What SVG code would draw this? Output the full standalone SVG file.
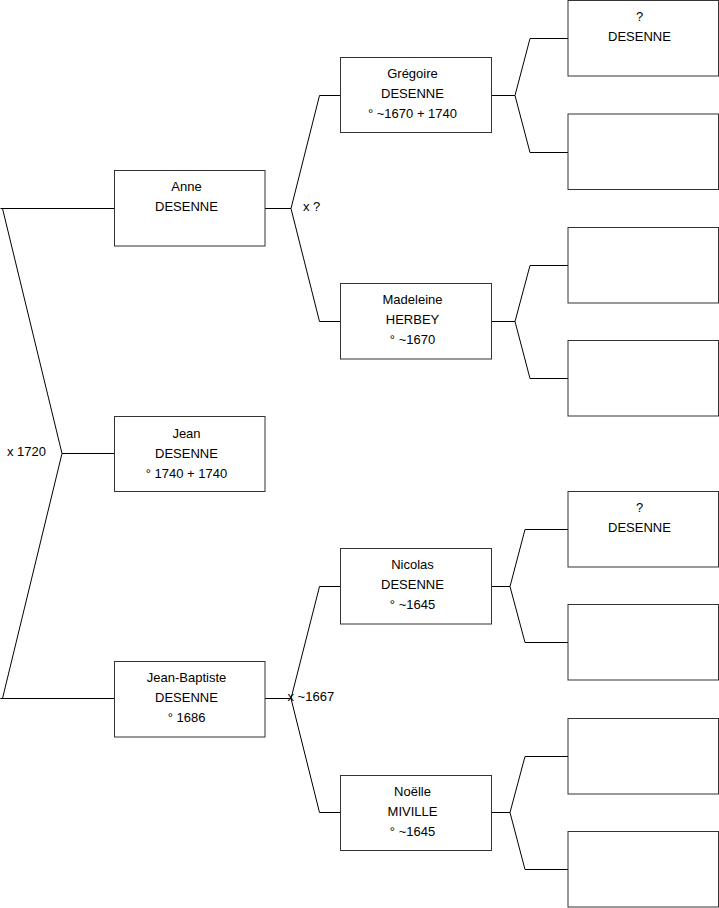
<svg xmlns="http://www.w3.org/2000/svg" width="719" height="908" viewBox="0 0 719 908">
<style>
.box{fill:#fff;stroke:#333;stroke-width:1}
.ln{fill:none;stroke:#000;stroke-width:1}
text{font-family:"Liberation Sans",Arial,sans-serif;font-size:13px;fill:#000}
.c{text-anchor:middle}
</style>
<rect width="719" height="908" fill="#fff"/>
<g id="connectors">
<path class="ln" d="M114,208.5 L0.5,208.5 M2.5,208.5 L62,453.5 L2.5,698.5 L0.5,698.5 M0.5,698.5 L114,698.5 M62,453.5 L114,453.5"/>
<path class="ln" d="M265,208.5 L291,208.5 L319.5,95.5 L340,95.5 M291,208.5 L319.5,321.5 L340,321.5"/>
<path class="ln" d="M265,698.5 L291,698.5 L319.5,586.5 L340,586.5 M291,698.5 L319.5,812.5 L340,812.5"/>
<path class="ln" d="M491,95.5 L515,95.5 L530,38.5 L568,38.5 M515,95.5 L530,152.5 L568,152.5"/>
<path class="ln" d="M491,321.5 L515,321.5 L530,265.5 L568,265.5 M515,321.5 L530,378.5 L568,378.5"/>
<path class="ln" d="M491,586.5 L510,586.5 L525,529.5 L568,529.5 M510,586.5 L525,642.5 L568,642.5"/>
<path class="ln" d="M491,812.5 L510,812.5 L525,756.5 L568,756.5 M510,812.5 L525,869.5 L568,869.5"/>
<text x="7" y="456">x 1720</text>
<text x="303" y="211">x ?</text>
<text x="287.5" y="701">x ~1667</text>
</g>
<g id="anne"><rect class="box" x="114.5" y="170.5" width="150.5" height="75.5"/>
<text class="c" x="186.5" y="191">Anne</text><text class="c" x="186.5" y="211">DESENNE</text></g>
<g id="jean"><rect class="box" x="114.5" y="416.5" width="150.5" height="75"/>
<text class="c" x="186.5" y="437.5">Jean</text><text class="c" x="186.5" y="457.5">DESENNE</text><text class="c" x="186.5" y="477.5">° 1740 + 1740</text></g>
<g id="jean-baptiste"><rect class="box" x="114.5" y="661.5" width="150.5" height="75.5"/>
<text class="c" x="186.5" y="682">Jean-Baptiste</text><text class="c" x="186.5" y="702">DESENNE</text><text class="c" x="186.5" y="722">° 1686</text></g>
<g id="gregoire"><rect class="box" x="340.5" y="57.5" width="151" height="75"/>
<text class="c" x="412.5" y="78">Grégoire</text><text class="c" x="412.5" y="98">DESENNE</text><text class="c" x="412.5" y="118">° ~1670 + 1740</text></g>
<g id="madeleine"><rect class="box" x="340.5" y="283.5" width="151" height="75.5"/>
<text class="c" x="412.5" y="304">Madeleine</text><text class="c" x="412.5" y="324">HERBEY</text><text class="c" x="412.5" y="344">° ~1670</text></g>
<g id="nicolas"><rect class="box" x="340.5" y="548.5" width="151" height="75.5"/>
<text class="c" x="412.5" y="569">Nicolas</text><text class="c" x="412.5" y="589">DESENNE</text><text class="c" x="412.5" y="609">° ~1645</text></g>
<g id="noelle"><rect class="box" x="340.5" y="775.5" width="151" height="75"/>
<text class="c" x="412.5" y="796">Noëlle</text><text class="c" x="412.5" y="816">MIVILLE</text><text class="c" x="412.5" y="836">° ~1645</text></g>
<g id="p1"><rect class="box" x="568" y="0.5" width="150.5" height="75.5"/>
<text class="c" x="639.5" y="20.5">?</text><text class="c" x="639.5" y="40.5">DESENNE</text></g>
<g id="p2"><rect class="box" x="568" y="114" width="150.5" height="75.5"/></g>
<g id="p3"><rect class="box" x="568" y="227.5" width="150.5" height="75.5"/></g>
<g id="p4"><rect class="box" x="568" y="340.5" width="150.5" height="75.5"/></g>
<g id="p5"><rect class="box" x="568" y="491.5" width="150.5" height="75.5"/>
<text class="c" x="639.5" y="511.5">?</text><text class="c" x="639.5" y="531.5">DESENNE</text></g>
<g id="p6"><rect class="box" x="568" y="604.5" width="150.5" height="75.5"/></g>
<g id="p7"><rect class="box" x="568" y="718.5" width="150.5" height="75.5"/></g>
<g id="p8"><rect class="box" x="568" y="831.5" width="150.5" height="75.5"/></g>
</svg>
